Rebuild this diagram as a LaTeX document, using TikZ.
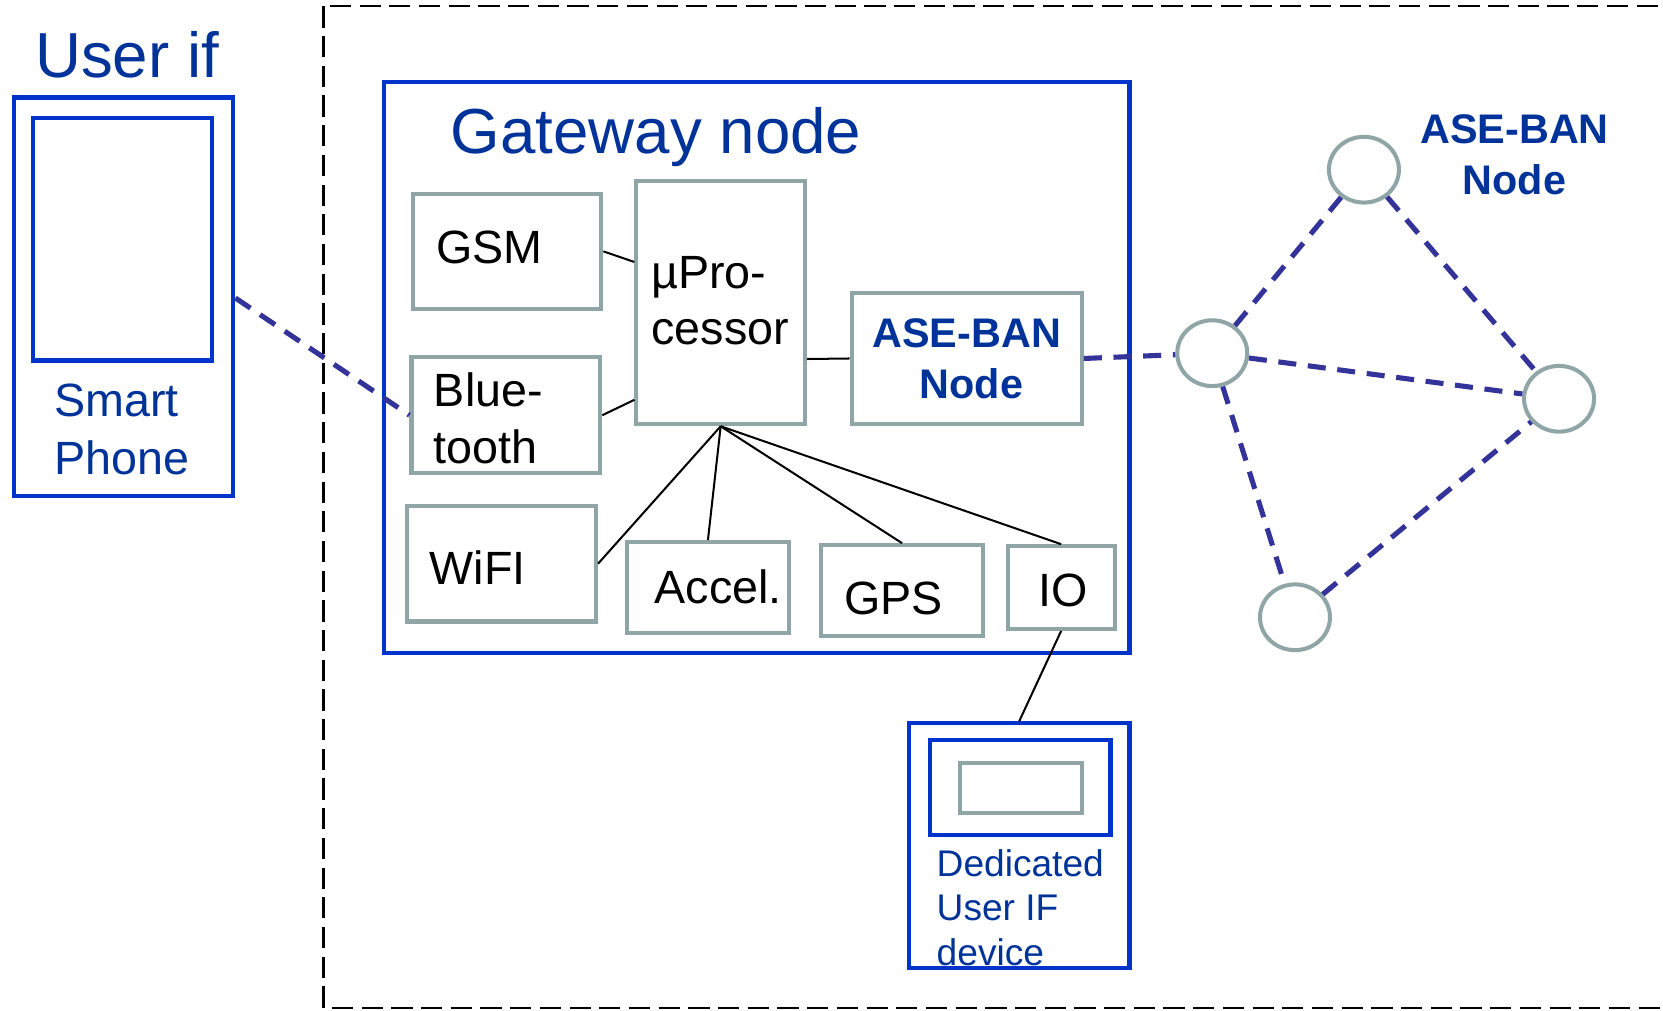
\documentclass[tikz,border=0pt]{standalone}
\usepackage{fontspec}
\setmainfont{Liberation Sans}
\usetikzlibrary{shapes.geometric}
\definecolor{boxblue}{RGB}{0,51,204}
\definecolor{txtblue}{RGB}{0,51,153}
\definecolor{boxgray}{RGB}{143,165,166}
\definecolor{linkpurple}{RGB}{51,51,153}
\tikzset{
  graybox/.style={draw=boxgray, line width=3.8pt, inner sep=0pt, fill=white},
  bluebx/.style={draw=boxblue, line width=4pt, inner sep=0pt},
  bannode/.style={ellipse, draw=boxgray, line width=3.8pt, inner sep=0pt, minimum width=66pt, minimum height=62pt, fill=white},
  wire/.style={draw=black, line width=1.9pt},
  radiolink/.style={draw=linkpurple, line width=4.8pt, dash pattern=on 17pt off 11pt},
  bigtxt/.style={text=txtblue, font=\fontsize{60}{60}\selectfont, inner sep=0pt, anchor=base west},
  midtxt/.style={text=txtblue, font=\fontsize{44}{44}\selectfont, inner sep=0pt, anchor=base west},
  blktxt/.style={text=black, font=\fontsize{44}{44}\selectfont, inner sep=0pt, anchor=base west},
  boldtxt/.style={text=txtblue, font=\fontsize{39}{39}\selectfont\bfseries, inner sep=0pt, anchor=base},
  smalltxt/.style={text=txtblue, font=\fontsize{35}{35}\selectfont, inner sep=0pt, anchor=base west}
}
\begin{document}
\begin{tikzpicture}[x=1pt,y=-1pt]
\useasboundingbox (0,0) rectangle (1568,953);
\fill[white] (0,0) rectangle (1568,953);
% outer dashed frame
\begin{scope}
\clip (0,0) rectangle (1568,953);
\draw[black, line width=2pt, dash pattern=on 20pt off 8pt] (305,6) rectangle (1600,950);
\end{scope}
% smart phone
\node[bigtxt] (userif) at (33,73) {User if};
\node[bluebx, minimum width=207pt, minimum height=376pt] (phone) at (116.5,280) {};
\node[bluebx, minimum width=169pt, minimum height=229pt] (screen) at (115.5,225.5) {};
\node[midtxt] (smart) at (51,393) {Smart};
\node[midtxt] (phonetxt) at (51,447) {Phone};
% gateway
\node[bluebx, minimum width=703pt, minimum height=539pt] (gw) at (713.5,346.5) {};
\node[bigtxt] (gwtxt) at (425,145) {Gateway node};
\node[graybox, minimum width=178pt, minimum height=108pt] (gsm) at (478,237) {};
\node[graybox, minimum width=159pt, minimum height=229pt] (up) at (679.5,285.5) {};
\node[graybox, minimum width=217pt, minimum height=124pt] (ase) at (911.5,338) {};
\node[graybox, minimum width=178pt, minimum height=109pt] (bt) at (477,391.5) {};
\node[graybox, minimum width=178pt, minimum height=109pt] (wifi) at (473,531.5) {};
\node[graybox, minimum width=153pt, minimum height=86pt] (accel) at (667.5,554) {};
\node[graybox, minimum width=153pt, minimum height=86pt] (gps) at (850.5,557) {};
\node[graybox, minimum width=101pt, minimum height=78pt] (io) at (1000.5,554) {};
\node[blktxt] (gsmtxt) at (411,248) {GSM};
\node[blktxt] (uptxta) at (614,272) {µPro-};
\node[blktxt] (uptxtb) at (614,325) {cessor};
\node[blktxt] (bttxta) at (409,383) {Blue-};
\node[blktxt] (bttxtb) at (409,437) {tooth};
\node[blktxt] (wifitxt) at (405,551) {WiFI};
\node[blktxt] (acceltxt) at (617,569) {Accel.};
\node[blktxt] (gpstxt) at (796,579) {GPS};
\node[blktxt] (iotxt) at (979,572) {IO};
\node[boldtxt] (asetxta) at (911.5,328) {ASE-BAN};
\node[boldtxt] (asetxtb) at (916,376) {Node};
% wires
\draw[wire] (gsm.east) -- ([yshift=38.5pt]up.west);
\draw[wire] (bt.east) -- ([yshift=-91.5pt]up.west);
\draw[wire] ([yshift=-53pt]up.east) -- (ase.west);
\draw[wire] (up.south) -- (wifi.east);
\draw[wire] (up.south) -- (accel.north);
\draw[wire] (up.south) -- (gps.north);
\draw[wire] (up.south) -- (io.north);
% dedicated device
\node[bluebx, minimum width=208pt, minimum height=231pt] (ded) at (961,797.5) {};
\node[bluebx, minimum width=170pt, minimum height=89pt] (dedin) at (962,742.5) {};
\node[graybox, minimum width=115pt, minimum height=48pt] (dedscr) at (962.5,743) {};
\node[smalltxt] (dedtxta) at (883,826) {Dedicated};
\node[smalltxt] (dedtxtb) at (883,868) {User IF};
\node[smalltxt] (dedtxtc) at (883,910) {device};
\draw[wire] (io.south) -- (ded.north);
% BAN network
\node[bannode] (n2) at (1286,160) {};
\node[bannode] (n1) at (1143,333) {};
\node[bannode] (n3) at (1470,376) {};
\node[bannode] (n4) at (1221,582) {};
\node[boldtxt] (bantxta) at (1428,135) {ASE-BAN};
\node[boldtxt] (bantxtb) at (1428,183) {Node};
\draw[radiolink] ([yshift=-1pt]phone.east) -- (bt.west);
\draw[radiolink] (ase.east) -- (n1);
\draw[radiolink] (n1) -- (n2);
\draw[radiolink] (n2) -- (n3);
\draw[radiolink] (n1) -- (n3);
\draw[radiolink] (n1) -- (n4);
\draw[radiolink] (n4) -- (n3);
\end{tikzpicture}
\end{document}
